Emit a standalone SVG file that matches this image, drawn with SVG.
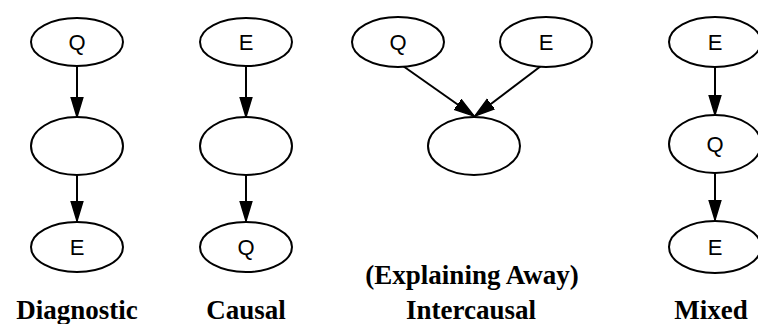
<svg xmlns="http://www.w3.org/2000/svg" width="758" height="324" viewBox="0 0 758 324">
<style>
.n{fill:#fff;stroke:#000;stroke-width:2}
.t{font-family:"Liberation Sans",Arial,sans-serif;font-size:22px;fill:#000;text-anchor:middle}
.c{fill:none;stroke:#000;stroke-width:2;marker-end:url(#ah)}
.lab{font-family:"Liberation Serif","Times New Roman",serif;font-weight:bold;font-size:27px;fill:#000;text-anchor:middle}
</style>
<defs>
<marker id="ah" markerUnits="userSpaceOnUse" markerWidth="24" markerHeight="16" refX="20" refY="7" orient="auto" viewBox="0 0 24 14">
<path d="M0,1 L20,7 L0,13 Z" fill="#000" stroke="#000" stroke-width="1.5" stroke-linejoin="miter"/>
</marker>
</defs>
<g id="connectors">
<line class="c" x1="77" y1="66" x2="77" y2="117"/>
<line class="c" x1="77" y1="175" x2="77" y2="221"/>
<line class="c" x1="246" y1="66" x2="246" y2="117"/>
<line class="c" x1="246" y1="175" x2="246" y2="221"/>
<line class="c" x1="403" y1="66" x2="474" y2="116"/>
<line class="c" x1="541" y1="66" x2="475" y2="116"/>
<line class="c" x1="715" y1="67" x2="715" y2="115"/>
<line class="c" x1="715" y1="173" x2="715" y2="220"/>
</g>
<g id="diag-q"><ellipse class="n" cx="77" cy="42" rx="46" ry="24"/><text class="t" x="77" y="50">Q</text></g>
<g id="diag-mid"><ellipse class="n" cx="77" cy="146" rx="46" ry="29"/></g>
<g id="diag-e"><ellipse class="n" cx="77" cy="247" rx="46" ry="25"/><text class="t" x="77" y="255">E</text></g>
<g id="causal-e"><ellipse class="n" cx="246" cy="42" rx="46" ry="24"/><text class="t" x="246" y="50">E</text></g>
<g id="causal-mid"><ellipse class="n" cx="246" cy="146" rx="46" ry="29"/></g>
<g id="causal-q"><ellipse class="n" cx="246" cy="247" rx="46" ry="25"/><text class="t" x="246" y="255">Q</text></g>
<g id="inter-q"><ellipse class="n" cx="398" cy="42" rx="46" ry="25"/><text class="t" x="398" y="50">Q</text></g>
<g id="inter-e"><ellipse class="n" cx="546" cy="42" rx="46" ry="25"/><text class="t" x="546" y="50">E</text></g>
<g id="inter-mid"><ellipse class="n" cx="474" cy="146" rx="46" ry="29"/></g>
<g id="mixed-e1"><ellipse class="n" cx="715" cy="42" rx="46" ry="25"/><text class="t" x="715" y="50">E</text></g>
<g id="mixed-q"><ellipse class="n" cx="715" cy="144" rx="46" ry="29"/><text class="t" x="715" y="152">Q</text></g>
<g id="mixed-e2"><ellipse class="n" cx="715" cy="247" rx="46" ry="26"/><text class="t" x="715" y="255">E</text></g>
<g id="labels">
<text class="lab" x="472" y="284">(Explaining Away)</text>
<text class="lab" x="77" y="319">Diagnostic</text>
<text class="lab" x="246" y="319">Causal</text>
<text class="lab" x="471" y="319">Intercausal</text>
<text class="lab" x="711" y="319">Mixed</text>
</g>
</svg>
